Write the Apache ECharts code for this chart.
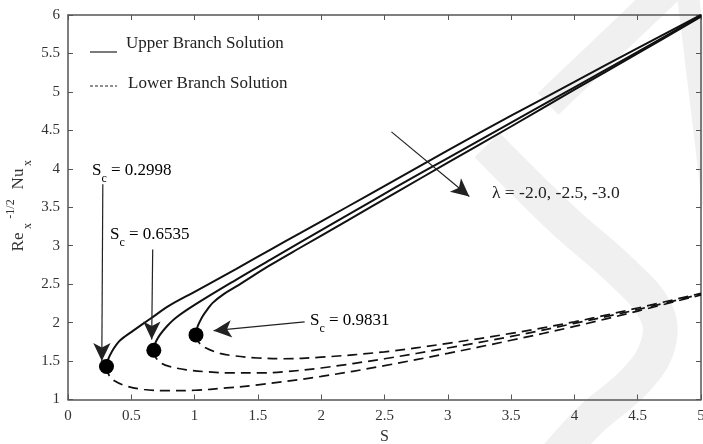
<!DOCTYPE html>
<html><head><meta charset="utf-8">
<script src="https://cdn.jsdelivr.net/npm/echarts/dist/echarts.min.js"></script>
<style>html,body{margin:0;padding:0;background:#fff}#c{width:703px;height:444px}</style>
</head><body><div id="c"></div>
<script>
// ---- data ----
const xTickLabels = ['0','0.5','1','1.5','2','2.5','3','3.5','4','4.5','5'];
const yTickLabels = ['1','1.5','2','2.5','3','3.5','4','4.5','5','5.5','6'];

// upper branch, lambda = -2.0, -2.5, -3.0
const upperA_S  = [0.304,0.31,0.33,0.36,0.40,0.45,0.51,0.65,0.80,1.00,1.33,1.60,1.83,2.20,2.60,3.00,3.50,4.00,4.50,5.00];
const upperA_Nu = [1.43,1.49,1.57,1.66,1.75,1.82,1.89,2.05,2.22,2.40,2.70,2.95,3.16,3.50,3.87,4.24,4.69,5.13,5.57,6.00];
const upperB_S  = [0.678,0.685,0.70,0.73,0.78,0.85,1.00,1.33,1.60,1.83,2.20,2.60,3.00,3.50,4.00,4.50,5.00];
const upperB_Nu = [1.64,1.71,1.77,1.85,1.95,2.06,2.23,2.56,2.82,3.04,3.39,3.77,4.14,4.60,5.06,5.52,5.99];
const upperC_S  = [1.011,1.02,1.04,1.066,1.10,1.145,1.23,1.33,1.59,1.83,2.20,2.60,3.00,3.50,4.00,4.50,5.00];
const upperC_Nu = [1.84,1.93,2.01,2.09,2.17,2.26,2.37,2.47,2.74,2.97,3.32,3.70,4.08,4.55,5.03,5.50,5.98];

// lower branch
const lowerA_S  = [0.304,0.31,0.33,0.37,0.45,0.60,0.80,1.00,1.25,1.50,2.00,2.50,3.00,3.50,4.00,4.50,5.00];
const lowerA_Nu = [1.43,1.37,1.30,1.24,1.18,1.13,1.115,1.12,1.15,1.19,1.30,1.44,1.60,1.77,1.95,2.15,2.36];
const lowerB_S  = [0.678,0.685,0.70,0.74,0.80,0.935,1.10,1.30,1.50,1.70,2.00,2.50,3.00,3.50,4.00,4.50,5.00];
const lowerB_Nu = [1.64,1.58,1.53,1.47,1.43,1.385,1.36,1.345,1.345,1.36,1.41,1.53,1.67,1.82,1.99,2.17,2.37];
const lowerC_S  = [1.011,1.02,1.04,1.09,1.20,1.30,1.50,1.70,2.00,2.50,3.00,3.50,4.00,4.50,5.00];
const lowerC_Nu = [1.84,1.78,1.73,1.67,1.60,1.57,1.54,1.53,1.55,1.62,1.73,1.86,2.01,2.19,2.38];

// critical (turning) points
const critS  = [0.304,0.678,1.011];
const critNu = [1.43,1.64,1.84];

// annotation arrows (data coordinates): start, end
const arrowFrom = [[0.275,3.80],[0.669,2.95],[1.869,2.01],[2.555,4.48]];
const arrowTo   = [[0.267,1.50],[0.661,1.78],[1.150,1.895],[3.170,3.64]];

// ---- chart ----
const pairs = (xs, ys) => xs.map((x, i) => [x, ys[i]]);
const FONT = 'Liberation Serif';
const axisCol = '#555';
const lineBase = {type:'line', symbol:'none', showSymbol:false, smooth:0.35, silent:true, clip:false};
const solid = {color:'#111', width:2};
const dashed = {color:'#111', width:1.7, type:[10,6]};

const chart = echarts.init(document.getElementById('c'), null, {renderer:'canvas'});

const xLab = {color:'#333', fontFamily:FONT, fontSize:15, margin:9,
  formatter: v => xTickLabels[Math.round(v / 0.5)]};
const yLab = {color:'#333', fontFamily:FONT, fontSize:15, margin:8,
  formatter: v => yTickLabels[Math.round((v - 1) / 0.5)]};

function axisCommon(extra){
  return Object.assign({
    type:'value', splitLine:{show:false},
    axisLine:{show:true, onZero:false, lineStyle:{color:axisCol, width:1.5}},
    axisTick:{show:true, inside:true, length:5, lineStyle:{color:axisCol, width:1}}
  }, extra);
}

const txt = (x, y, text, size) => ({
  type:'text', x, y, silent:true, z:10,
  style:{text, fill:'#222', font:`${size}px "${FONT}"`, verticalAlign:'middle', align:'left'}
});

const scRich = {
  s:{fontFamily:FONT, fontSize:17, color:'#222', lineHeight:28, verticalAlign:'middle'},
  c:{fontFamily:FONT, fontSize:12, color:'#222', lineHeight:12, verticalAlign:'bottom'},
  t:{fontFamily:FONT, fontSize:17, color:'#222', lineHeight:28, verticalAlign:'middle'}
};
const scLabel = (x, y, val) => ({
  type:'text', x, y, silent:true, z:10,
  style:{text:`{s|S}{c|c}{t| = ${val}}`, rich:scRich, verticalAlign:'middle', align:'left'}
});

const wm = (points, w) => ({type:'polyline', silent:true, z:-5,
  shape:{points, smooth:0.4}, style:{stroke:'#f0f0f0', lineWidth:w, fill:null, lineCap:'butt'}});

const rot = Math.PI / 2;
const ytxt = (x, y, text, size) => ({type:'text', x, y, rotation:rot, silent:true, z:10,
  style:{text, fill:'#333', font:`${size}px "${FONT}"`, align:'center', verticalAlign:'middle'}});

chart.setOption({
  animation:false,
  backgroundColor:'#fff',
  grid:{left:68, right:2, top:15, bottom:44.5, containLabel:false, outerBoundsMode:'none'},
  xAxis:[
    axisCommon({min:0, max:5, interval:0.5, position:'bottom', axisLabel:xLab,
      name:'S', nameLocation:'middle', nameGap:29,
      nameTextStyle:{fontFamily:FONT, fontSize:16, color:'#333'}}),
    axisCommon({min:0, max:5, interval:0.5, position:'top', axisLabel:{show:false}})
  ],
  yAxis:[
    axisCommon({min:1, max:6, interval:0.5, position:'left', axisLabel:yLab}),
    axisCommon({min:1, max:6, interval:0.5, position:'right', axisLabel:{show:false}})
  ],
  graphic:[
    // faint watermark
    wm([[548,104],[672,-14]], 30),
    wm([[688,-5],[714,210]], 22),
    wm([[487,145],[563,220],[622,272],[656,312],[658,345],[636,380],[590,420],[552,462]], 35),
    // legend
    {type:'line', silent:true, z:10, shape:{x1:90, y1:52, x2:117, y2:52}, style:{stroke:'#222', lineWidth:1.2}},
    txt(126, 43.5, 'Upper Branch Solution', 17),
    {type:'line', silent:true, z:10, shape:{x1:90, y1:86, x2:117, y2:86}, style:{stroke:'#222', lineWidth:1.2, lineDash:[3,2]}},
    txt(128, 84, 'Lower Branch Solution', 17),
    // critical value labels
    scLabel(92, 171, '0.2998'),
    scLabel(110, 235, '0.6535'),
    scLabel(310, 321, '0.9831'),
    txt(492, 193.5, 'λ = -2.0, -2.5, -3.0', 17.5),
    // y axis title
    ytxt(19, 242, 'Re', 17),
    ytxt(28, 226, 'x', 12),
    ytxt(11, 209, '-1/2', 12),
    ytxt(19, 179, 'Nu', 17),
    ytxt(28, 163, 'x', 12)
  ],
  series:[
    Object.assign({}, lineBase, {data:pairs(upperA_S, upperA_Nu), lineStyle:solid}),
    Object.assign({}, lineBase, {data:pairs(upperB_S, upperB_Nu), lineStyle:solid}),
    Object.assign({}, lineBase, {data:pairs(upperC_S, upperC_Nu), lineStyle:solid}),
    Object.assign({}, lineBase, {data:pairs(lowerA_S, lowerA_Nu), lineStyle:dashed}),
    Object.assign({}, lineBase, {data:pairs(lowerB_S, lowerB_Nu), lineStyle:dashed}),
    Object.assign({}, lineBase, {data:pairs(lowerC_S, lowerC_Nu), lineStyle:dashed}),
    {type:'scatter', silent:true, z:5, symbol:'circle', symbolSize:15,
     itemStyle:{color:'#000', opacity:1}, data:pairs(critS, critNu),
     markLine:{silent:true, symbol:['none','arrow'], symbolSize:[13,18], precision:4,
       label:{show:false}, lineStyle:{color:'#222', width:1.2, type:'solid', opacity:1},
       emphasis:{disabled:true},
       data:arrowFrom.map((p, i) => [{coord:p}, {coord:arrowTo[i]}])}}
  ]
});
</script></body></html>
